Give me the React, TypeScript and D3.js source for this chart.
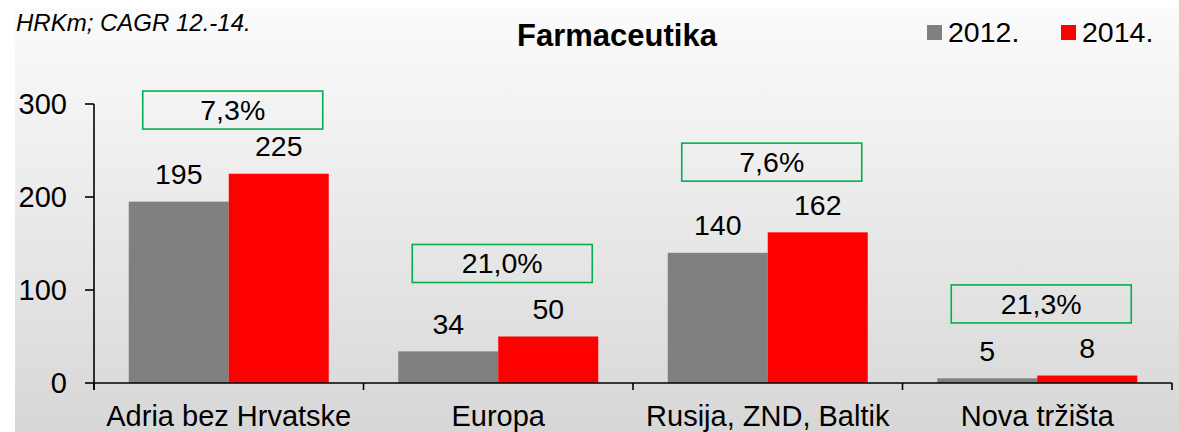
import React from "react";
import * as d3 from "d3";

const categories = ["Adria bez Hrvatske", "Europa", "Rusija, ZND, Baltik", "Nova tržišta"];
const series = ["2012.", "2014."];
const values2012 = [195, 34, 140, 5];
const values2014 = [225, 50, 162, 8];
const cagrLabels = ["7,3%", "21,0%", "7,6%", "21,3%"];
const cagrAnchor = [293.5, 128.5, 237.5, 85];
const yTicks = [0, 100, 200, 300];

const W = 1179;
const H = 432;
const FONT = "'Liberation Sans', Arial, Helvetica, sans-serif";
const colors = ["#808080", "#ff0000"];

export default function App() {
  const x = d3.scaleBand<string>().domain(categories).range([94, 1172]).paddingInner(0).paddingOuter(0);
  const inner = d3.scaleBand<string>().domain(series).range([0, 200]).padding(0);
  const groupOffset = (x.bandwidth() - 200) / 2;
  const y = d3.scaleLinear().domain([0, 300]).range([383, 104]);
  const data = [values2012, values2014];
  const boundaries = [...categories.map((c) => x(c) as number), 1172];

  return (
    <div style={{ position: "absolute", left: 0, top: 0 }}>
      <svg width={W} height={H} style={{ display: "block", fontFamily: FONT }}>
        <defs>
          <linearGradient id="bg" x1="0" y1="0" x2="0" y2="1">
            <stop offset="0" stopColor="#fbfbfb" />
            <stop offset="1" stopColor="#d7d7d7" />
          </linearGradient>
        </defs>
        <rect x={0} y={0} width={W} height={H} fill="#ffffff" />
        <rect x={15} y={7} width={W - 15} height={H - 7} fill="url(#bg)" />

        <text x={16} y={31} fontSize={24} fontStyle="italic" fill="#000">
          HRKm; CAGR 12.-14.
        </text>
        <text x={617} y={46} fontSize={31} fontWeight="bold" textAnchor="middle" fill="#000">
          Farmaceutika
        </text>

        {series.map((s, i) => {
          const lx = [927, 1061][i];
          return (
            <g key={s}>
              <rect x={lx} y={25} width={15} height={15} fill={colors[i]} />
              <text x={lx + 21} y={42} fontSize={28.5} fill="#000">
                {s}
              </text>
            </g>
          );
        })}

        {categories.map((c, ci) => (
          <g key={c}>
            {series.map((s, si) => {
              const v = data[si][ci];
              const bx = (x(c) as number) + groupOffset + (inner(s) as number);
              return (
                <g key={s}>
                  <rect x={bx} y={y(v)} width={inner.bandwidth()} height={y(0) - y(v)} fill={colors[si]} />
                  <text x={bx + inner.bandwidth() / 2} y={y(v) - 17.5} fontSize={28.5} textAnchor="middle" fill="#000">
                    {v}
                  </text>
                </g>
              );
            })}
            <rect
              x={(x(c) as number) + x.bandwidth() / 2 + 4 - 90}
              y={y(cagrAnchor[ci]) - 19}
              width={180}
              height={38}
              fill="none"
              stroke="#00b050"
              strokeWidth={1.6}
            />
            <text
              x={(x(c) as number) + x.bandwidth() / 2 + 4}
              y={y(cagrAnchor[ci]) + 10}
              fontSize={28.5}
              textAnchor="middle"
              fill="#000"
            >
              {cagrLabels[ci]}
            </text>
            <text x={(x(c) as number) + x.bandwidth() / 2} y={426} fontSize={29} textAnchor="middle" fill="#000">
              {c}
            </text>
          </g>
        ))}

        <line x1={94} x2={94} y1={y(300)} y2={390} stroke="#000" strokeWidth={1.6} />
        <line x1={94} x2={1172} y1={y(0)} y2={y(0)} stroke="#000" strokeWidth={1.6} />
        {boundaries.map((b, i) => (
          <line key={i} x1={b} x2={b} y1={y(0)} y2={390} stroke="#000" strokeWidth={1.6} />
        ))}
        {yTicks.map((t) => (
          <g key={t}>
            <line x1={85} x2={94} y1={y(t)} y2={y(t)} stroke="#000" strokeWidth={1.6} />
            <text x={67} y={y(t) + 10} fontSize={29} textAnchor="end" fill="#000">
              {t}
            </text>
          </g>
        ))}
      </svg>
    </div>
  );
}
